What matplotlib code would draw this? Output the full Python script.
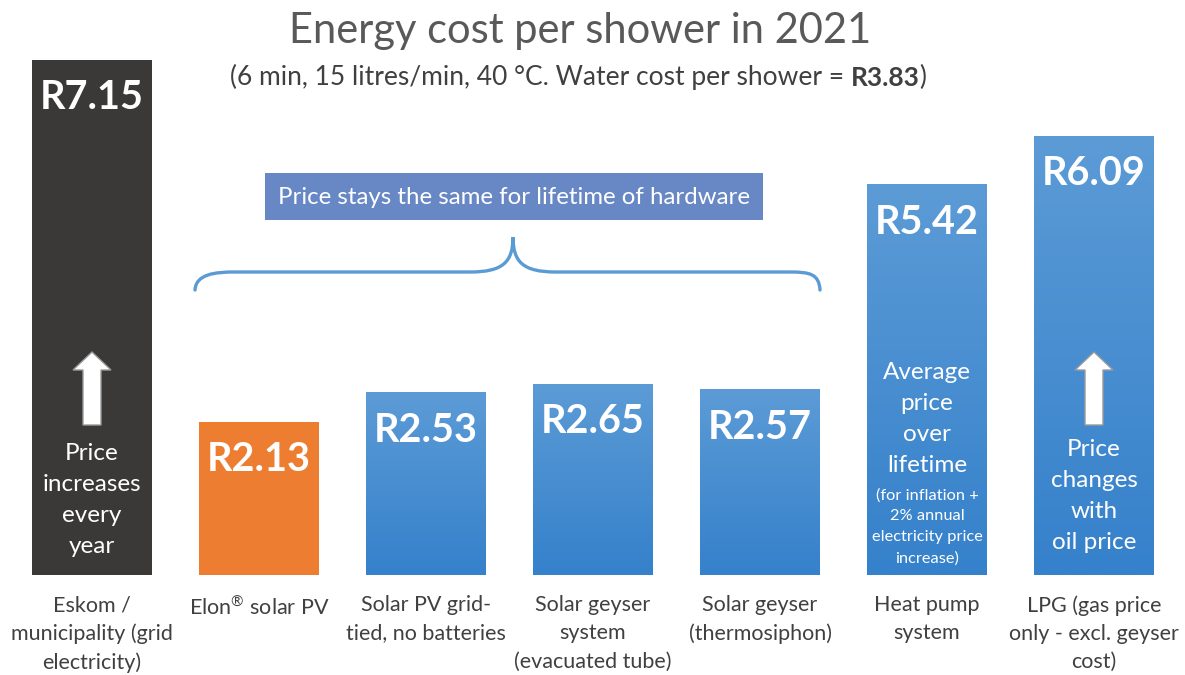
import numpy as np
import matplotlib.pyplot as plt
from matplotlib.patches import FancyArrow, Rectangle, PathPatch
from matplotlib.path import Path
from matplotlib.colors import LinearSegmentedColormap

plt.rcParams['font.family'] = ['Lato', 'DejaVu Sans']
plt.rcParams['mathtext.fontset'] = 'custom'
plt.rcParams['mathtext.rm'] = 'Lato'

# data
categories = ["Eskom /\nmunicipality (grid\nelectricity)",
              "Elon$^{\u00ae}$ solar PV",
              "Solar PV grid-\ntied, no batteries",
              "Solar geyser\nsystem\n(evacuated tube)",
              "Solar geyser\n(thermosiphon)",
              "Heat pump\nsystem",
              "LPG (gas price\nonly - excl. geyser\ncost)"]
costs = [7.15, 2.13, 2.53, 2.65, 2.57, 5.42, 6.09]
bar_kind = ["dark", "orange", "blue", "blue", "blue", "blue", "blue"]
water_cost = 3.83

W, H = 1185, 675
fig = plt.figure(figsize=(W / 100, H / 100), dpi=100)
ax = fig.add_axes([8.5 / W, 100 / H, 1169 / W, 575 / H])
ax.set_xlim(-0.5, len(costs) - 0.5)
ax.set_ylim(0, 575 / 72)
ax.axis('off')

def d(px, py):
    # pixel position in the picture (y down) -> data coords
    return ax.transData.inverted().transform((px, H - py))

solid = {"dark": "#3b3938", "orange": "#ed7d31"}
blue_grad = LinearSegmentedColormap.from_list("bg", ["#3581cb", "#5c9bd6"])

x = np.arange(len(costs))
bars = ax.bar(x, costs, width=0.713,
              color=[solid.get(k, "#4a8fd1") for k in bar_kind],
              edgecolor="none", zorder=1)
for b, k in zip(bars, bar_kind):
    if k == "blue":
        grad = np.linspace(0, 1, 256).reshape(-1, 1)
        ax.imshow(grad, cmap=blue_grad, origin='lower', aspect='auto',
                  extent=(b.get_x(), b.get_x() + b.get_width(), 0, b.get_height()),
                  zorder=2)
ax.set_xlim(-0.5, len(costs) - 0.5)
ax.set_ylim(0, 575 / 72)

# value labels
for xi, v in zip(x, costs):
    ax.text(xi, v - 0.52, f"R{v:.2f}", ha='center', va='center', color='white',
            fontsize=28.5, fontweight='bold', zorder=5)

# category labels
for xi, c in zip(x, categories):
    ax.text(xi, d(0, 595)[1], c, ha='center', va='top', color='#404040',
            fontsize=15.5, linespacing=1.52, clip_on=False)

# texts inside bars
big = dict(ha='center', va='center', color='white', fontsize=17.5,
           linespacing=1.58, zorder=5)
ax.text(0, d(0, 500)[1], "Price\nincreases\nevery\nyear", **big)
ax.text(6, d(0, 496)[1], "Price\nchanges\nwith\noil price", **big)
ax.text(5, d(0, 419)[1], "Average\nprice\nover\nlifetime", **big)
ax.text(5, d(0, 527)[1], "(for inflation +\n2% annual\nelectricity price\nincrease)",
        ha='center', va='center', color='white', fontsize=11.8, linespacing=1.62, zorder=5)

# up arrows
for xi in (0, 6):
    y0 = d(0, 425)[1]
    y1 = d(0, 352)[1]
    ax.add_patch(FancyArrow(xi, y0, 0, y1 - y0, width=18 / 167, head_width=38 / 167,
                            head_length=18 / 72, length_includes_head=True,
                            facecolor='white', edgecolor='#9a9a9a', lw=1, zorder=6))

# brace over the solar options
pts = [(195, 290), (196, 274), (215, 272), (235, 272),
       (470, 272),
       (503, 272), (513, 262), (513, 237),
       (513, 262), (523, 272), (556, 272),
       (790, 272),
       (810, 272), (819, 274), (820, 290)]
codes = [Path.MOVETO, Path.CURVE4, Path.CURVE4, Path.CURVE4,
         Path.LINETO,
         Path.CURVE4, Path.CURVE4, Path.CURVE4,
         Path.CURVE4, Path.CURVE4, Path.CURVE4,
         Path.LINETO,
         Path.CURVE4, Path.CURVE4, Path.CURVE4]
brace = Path([d(*p) for p in pts], codes)
ax.add_patch(PathPatch(brace, facecolor='none', edgecolor='#5b9bd5', lw=2.4,
                       capstyle='round', clip_on=False, zorder=4))

# label box above brace
bx0, by1 = d(265, 220)
bx1, by0 = d(763, 173)
ax.add_patch(Rectangle((bx0, by1), bx1 - bx0, by0 - by1, facecolor='#6788c5',
                       edgecolor='none', clip_on=False, zorder=4))
cx, cy = d(514, 197)
ax.text(cx, cy, "Price stays the same for lifetime of hardware", ha='center',
        va='center', color='white', fontsize=17.3, zorder=5)

# title and subtitle
fig.text(580 / W, 1 - 43 / H, "Energy cost per shower in 2021", ha='center',
         va='baseline', color='#595959', fontsize=30)
sub = fig.text(0.5, 1 - 85 / H,
               "(6 min, 15 litres/min, 40 \u00b0C. Water cost per shower = ",
               ha='left', va='baseline', color='#404040', fontsize=19)
bold = ax.annotate(f"R{water_cost:.2f}", xy=(1, 0), xycoords=sub,
                   ha='left', va='bottom', color='#404040', fontsize=19,
                   fontweight='bold', annotation_clip=False)
close = ax.annotate(")", xy=(1, 0), xycoords=bold, ha='left', va='bottom',
                    color='#404040', fontsize=19, annotation_clip=False)
fig.canvas.draw()
r = fig.canvas.get_renderer()
x_left = sub.get_window_extent(r).x0
x_right = close.get_window_extent(r).x1
sub.set_x((578 - (x_right - x_left) / 2) / W)

fig.savefig("out.png", dpi=100)
